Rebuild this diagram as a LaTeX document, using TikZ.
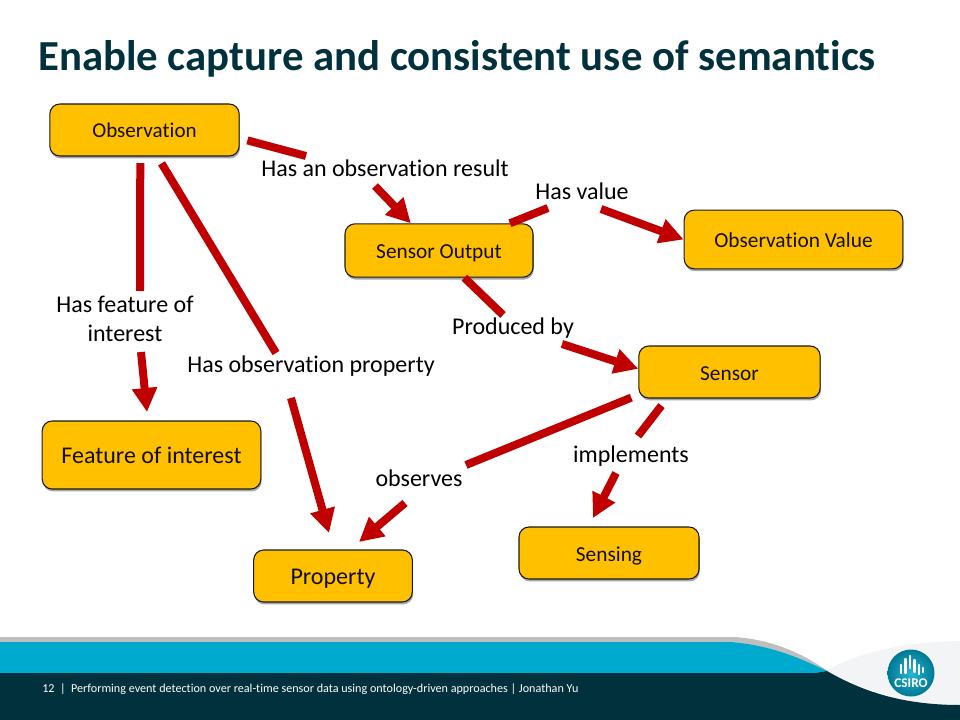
\documentclass[tikz,border=0pt]{standalone}
\usepackage{fontspec}
\setmainfont{Carlito}[Ligatures=NoCommon]
\usetikzlibrary{arrows.meta,shadows}
\definecolor{boxfill}{HTML}{FFC000}
\definecolor{linkred}{HTML}{C00000}
\definecolor{deepteal}{HTML}{00313C}
\definecolor{stripteal}{HTML}{00A9CE}
\definecolor{stripgrey}{HTML}{BFBFBF}
\definecolor{swoosh}{HTML}{F3F4F5}

\begin{document}
\begin{tikzpicture}[x=0.75pt, y=-0.75pt,
	main/.style = {draw=black!90, line width=0.8pt, fill=boxfill, rounded corners=7.5pt, inner sep=0pt, text=black!92!boxfill, text height=13pt, text depth=1pt, drop shadow={shadow xshift=0.6pt, shadow yshift=-1.8pt, opacity=0.7}},
	lab/.style = {font=\fontsize{18}{22}\selectfont, align=center, inner sep=0pt},
	link/.style = {draw=linkred, line width=6pt},
	tip/.style = {link, -{Triangle[length=18pt, width=18pt]}}]
	\useasboundingbox (0, 0) rectangle (960, 720);
	% footer
	\fill[stripgrey] (0, 637) -- (735, 637) .. controls (775, 640) and (805, 655) .. (829, 672) -- (0, 673) -- cycle;
	\fill[stripteal] (0, 642) -- (730, 642) .. controls (770, 645) and (800, 658) .. (827, 671) -- (815, 673) -- (0, 673) -- cycle;
	\fill[swoosh] (827, 671) .. controls (850, 655) and (900, 642) .. (960, 641) -- (960, 705) .. controls (920, 705) and (880, 698) .. cycle;
	\fill[deepteal] (0, 673) -- (815, 673) -- (827, 671) .. controls (860, 690) and (900, 705) .. (960, 705) -- (960, 720) -- (0, 720) -- cycle;
	\node[text=white, anchor=west, inner sep=0pt, font=\fontsize{9.1}{11}\selectfont] (footer) at (42, 689) {12~~|~~Performing event detection over real-time sensor data using ontology-driven approaches | Jonathan Yu};
	% logo
	\shade[inner color=stripteal!85!white, outer color=stripteal!60!deepteal] (911, 673) circle (23.5);
	\foreach \x/\t/\b in {901/665/673, 905.5/659/673, 910/656/668, 914.5/660/672, 919/665/674, 923/668/672}
		\draw[white, line width=1.7pt, line cap=round] (\x, \t) -- (\x, \b);
	\node[text=white, inner sep=0pt, font=\bfseries\fontsize{10}{11}\selectfont] (csiro) at (911, 683) {CSIRO};
	% title
	\node[anchor=west, inner sep=0pt, text=deepteal, font=\bfseries\fontsize{32.1}{38}\selectfont] (title) at (38, 59) {Enable capture and consistent use of semantics};
	% boxes
	\node[main, minimum width=142pt, minimum height=39pt, font=\fontsize{15.8}{18}\selectfont] (obs) at (144.5, 130) {Observation};
	\node[main, minimum width=141pt, minimum height=40pt, font=\fontsize{16}{18}\selectfont] (sout) at (439, 250.5) {Sensor Output};
	\node[main, minimum width=164pt, minimum height=44pt, font=\fontsize{16}{18}\selectfont] (ovalue) at (793.5, 239.5) {Observation Value};
	\node[main, minimum width=136pt, minimum height=39pt, font=\fontsize{16}{18}\selectfont] (sensor) at (729.5, 372) {Sensor};
	\node[main, minimum width=164pt, minimum height=51pt, font=\fontsize{18}{20}\selectfont] (foi) at (151.5, 455) {Feature of interest};
	\node[main, minimum width=119pt, minimum height=39pt, font=\fontsize{18}{20}\selectfont] (prop) at (333, 576) {Property};
	\node[main, minimum width=135pt, minimum height=39pt, font=\fontsize{16}{18}\selectfont] (sensing) at (609, 553) {Sensing};
	% labels
	\node[lab] (lresult) at (385, 168) {Has an observation result};
	\node[lab] (lvalue) at (582, 191) {Has value};
	\node[lab] (lfoi) at (125, 319) {Has feature of\\interest};
	\node[lab] (lprop) at (311, 366.5) {Has observation property};
	\node[lab] (lprod) at (513, 328.5) {Produced by};
	\node[lab] (lobserves) at (419, 478) {observes};
	\node[lab] (limpl) at (631, 456.5) {implements};
	% free ends of the connectors
	\coordinate (a1) at (306, 156);
	\coordinate (a2) at (375, 186);
	\coordinate (b1) at (548, 208);
	\coordinate (b2) at (601, 209);
	\coordinate (c1) at (140, 291);
	\coordinate (c2) at (141, 352);
	\coordinate (c3) at (147, 412);
	\coordinate (d1) at (276, 353);
	\coordinate (d2) at (291, 398);
	\coordinate (d3) at (329, 533);
	\coordinate (e1) at (503, 315);
	\coordinate (e2) at (562, 344);
	\coordinate (f1) at (466, 465);
	\coordinate (f2) at (405, 503);
	\coordinate (f3) at (359, 542);
	\coordinate (g1) at (638, 436);
	\coordinate (g2) at (616, 473);
	\coordinate (g3) at (593, 518);
	% connectors
	\draw[link, shorten <=6pt] (obs.-5.4) -- (a1);
	\draw[tip] (a2) -- (sout.136.6);
	\draw[link] (sout.21.9) -- (b1);
	\draw[tip] (b2) -- (ovalue.west);
	\draw[link, shorten <=5pt] (obs.-99.8) -- (c1);
	\draw[tip] (c2) -- (c3);
	\draw[link, shorten <=6pt] (obs.-64.7) -- (d1);
	\draw[tip] (d2) -- (d3);
	\draw[link] (sout.-47.8) -- (e1);
	\draw[tip] (e2) -- (sensor.178);
	\draw[link, shorten <=5.7pt] (sensor.-166.3) -- (f1);
	\draw[tip] (f2) -- (f3);
	\draw[link, shorten <=6.7pt] (sensor.-157) -- (g1);
	\draw[tip] (g2) -- (g3);
\end{tikzpicture}
\end{document}
